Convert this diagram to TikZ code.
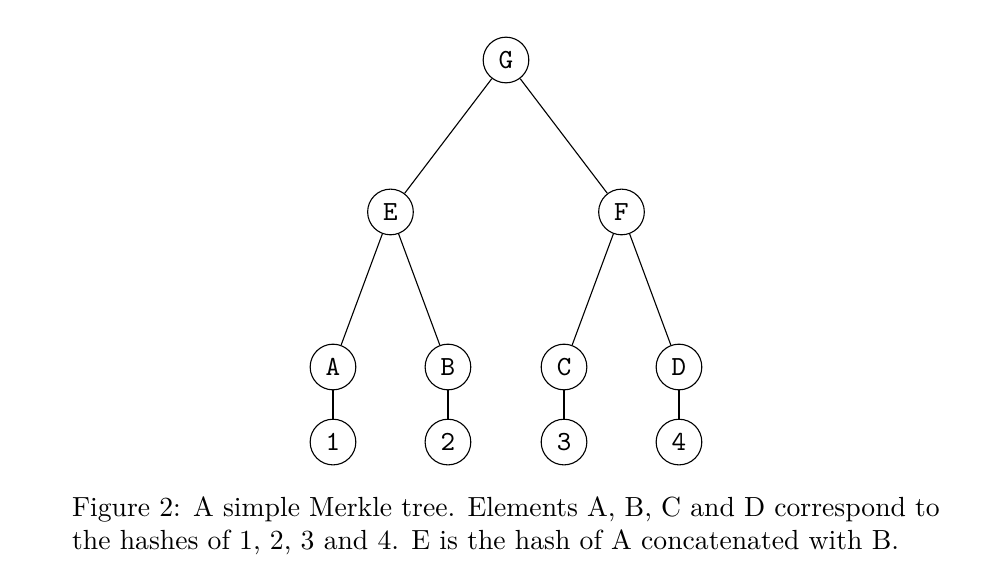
\documentclass[tikz,border=0pt]{standalone}
\usetikzlibrary{positioning}

\begin{document}
\begin{tikzpicture}[-,auto,on grid,main node/.style={circle,draw,minimum size=0.58cm,inner sep=0pt,font=\ttfamily\normalsize},leaf node/.style={main node}]
                \useasboundingbox (0,0) rectangle (12.7635,-7.4295);
                \node[main node] (G) at (6.426,-0.762) {G};
                \node[main node] (E) [below left=1.93cm and 1.467cm of G] {E};
                \node[main node] (F) [below right=1.93cm and 1.467cm of G] {F};
                \node[main node] (A) [below left=1.969cm and 0.73cm of E] {A};
                \node[main node] (B) [below right=1.969cm and 0.73cm of E] {B};
                \node[main node] (C) [below left=1.969cm and 0.73cm of F] {C};
                \node[main node] (D) [below right=1.969cm and 0.73cm of F] {D};
                \node[leaf node] (1) [below=0.953cm of A] {1};
                \node[leaf node] (2) [below=0.953cm of B] {2};
                \node[leaf node] (3) [below=0.953cm of C] {3};
                \node[leaf node] (4) [below=0.953cm of D] {4};

                \path
                    (G) edge (E)
                    (G) edge (F)
                    (E) edge (A)
                    (E) edge (B)
                    (F) edge (C)
                    (F) edge (D)
                    (A) edge (1)
                    (B) edge (2)
                    (C) edge (3)
                    (D) edge (4)
                    ;
                \node[anchor=north,inner sep=0pt,text width=11.02cm,align=justify] (caption) at (6.426,-6.3)
                    {Figure 2: A simple Merkle tree. Elements A, B, C and D correspond to the hashes of 1, 2, 3 and 4. E is the hash of A concatenated with B.};
            \end{tikzpicture}
\end{document}
